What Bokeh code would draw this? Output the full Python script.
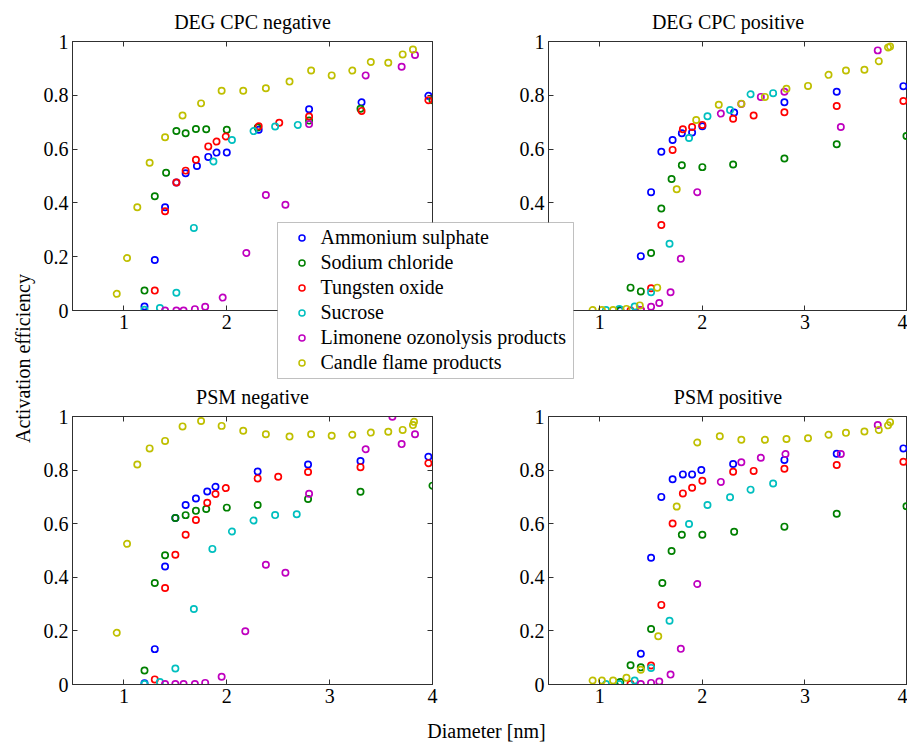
import math
from bokeh.plotting import figure
from bokeh.models import (Range1d, FixedTicker, CustomJSTickFormatter, LinearAxis,
                          Legend, LegendItem, Label, BoxAnnotation, GridBox, Column)
from bokeh.embed import file_html
from bokeh.resources import INLINE

# ---------------- data ----------------
series_names = ["Ammonium sulphate", "Sodium chloride", "Tungsten oxide", "Sucrose",
                "Limonene ozonolysis products", "Candle flame products"]
series_colors = ["#0000ff", "#008000", "#ff0000", "#00bfbf", "#bf00bf", "#bfbf00"]
panel_titles = ["DEG CPC negative", "DEG CPC positive", "PSM negative", "PSM positive"]
x_ticks = [1, 2, 3, 4]
y_ticks = [0, 0.2, 0.4, 0.6, 0.8, 1]
x_label = "Diameter [nm]"
y_label = "Activation efficiency"

# DEG CPC negative
deg_neg_ammonium_x = [1.20, 1.30, 1.40, 1.51, 1.60, 1.71, 1.82, 1.90, 2.00, 2.31, 2.80, 3.31, 3.96]
deg_neg_ammonium_y = [0.015, 0.188, 0.384, 0.476, 0.510, 0.537, 0.571, 0.587, 0.587, 0.672, 0.748, 0.774, 0.798]
deg_neg_sodium_x = [1.20, 1.30, 1.41, 1.51, 1.60, 1.70, 1.80, 2.00, 2.30, 2.80, 3.30, 4.00]
deg_neg_sodium_y = [0.074, 0.425, 0.512, 0.667, 0.659, 0.675, 0.674, 0.672, 0.680, 0.706, 0.750, 0.782]
deg_neg_tungsten_x = [1.30, 1.40, 1.51, 1.60, 1.70, 1.82, 1.90, 1.99, 2.31, 2.51, 2.80, 3.31, 3.96]
deg_neg_tungsten_y = [0.074, 0.369, 0.476, 0.520, 0.560, 0.610, 0.628, 0.647, 0.685, 0.698, 0.721, 0.742, 0.782]
deg_neg_sucrose_x = [1.20, 1.35, 1.51, 1.68, 1.87, 2.05, 2.26, 2.47, 2.69]
deg_neg_sucrose_y = [0.003, 0.009, 0.066, 0.307, 0.554, 0.634, 0.667, 0.684, 0.690]
deg_neg_limonene_x = [1.40, 1.51, 1.58, 1.69, 1.79, 1.96, 2.19, 2.38, 2.57, 2.80, 3.35, 3.70, 3.83]
deg_neg_limonene_y = [0.0, 0.0, 0.0, 0.005, 0.014, 0.048, 0.214, 0.429, 0.393, 0.693, 0.874, 0.906, 0.950]
deg_neg_candle_x = [0.93, 1.03, 1.13, 1.25, 1.40, 1.57, 1.75, 1.95, 2.16, 2.38, 2.61, 2.82, 3.02,
                    3.22, 3.40, 3.57, 3.71, 3.81]
deg_neg_candle_y = [0.062, 0.195, 0.384, 0.549, 0.644, 0.725, 0.770, 0.817, 0.817, 0.826, 0.851, 0.892,
                    0.874, 0.892, 0.924, 0.921, 0.952, 0.970]

# DEG CPC positive
deg_pos_ammonium_x = [1.20, 1.40, 1.50, 1.60, 1.71, 1.80, 1.90, 2.00, 2.31, 2.80, 3.31, 3.96]
deg_pos_ammonium_y = [0.0, 0.202, 0.440, 0.590, 0.634, 0.659, 0.662, 0.685, 0.736, 0.774, 0.813, 0.834]
deg_pos_sodium_x = [1.20, 1.30, 1.40, 1.50, 1.60, 1.70, 1.80, 2.00, 2.30, 2.80, 3.31, 3.99]
deg_pos_sodium_y = [0.002, 0.085, 0.071, 0.214, 0.379, 0.489, 0.540, 0.533, 0.543, 0.565, 0.618, 0.649]
deg_pos_tungsten_x = [1.30, 1.40, 1.50, 1.60, 1.71, 1.81, 1.90, 2.00, 2.30, 2.50, 2.80, 3.31, 3.96]
deg_pos_tungsten_y = [0.0, 0.002, 0.083, 0.318, 0.597, 0.674, 0.682, 0.690, 0.713, 0.725, 0.737, 0.760, 0.779]
deg_pos_sucrose_x = [1.06, 1.19, 1.34, 1.50, 1.68, 1.87, 2.05, 2.27, 2.47, 2.69]
deg_pos_sucrose_y = [0.002, 0.006, 0.015, 0.068, 0.248, 0.641, 0.722, 0.745, 0.804, 0.808]
deg_pos_limonene_x = [1.40, 1.50, 1.58, 1.69, 1.79, 1.95, 2.18, 2.38, 2.57, 2.80, 3.35, 3.71]
deg_pos_limonene_y = [0.002, 0.014, 0.028, 0.068, 0.192, 0.440, 0.732, 0.768, 0.794, 0.813, 0.682, 0.967]
deg_pos_candle_x = [0.93, 1.02, 1.13, 1.26, 1.39, 1.56, 1.75, 1.94, 2.16, 2.38, 2.61, 2.82, 3.03,
                    3.23, 3.40, 3.58, 3.72, 3.81, 3.83]
deg_pos_candle_y = [0.002, 0.002, 0.002, 0.006, 0.019, 0.085, 0.451, 0.708, 0.765, 0.769, 0.794, 0.824,
                    0.835, 0.876, 0.892, 0.895, 0.927, 0.978, 0.981]

# PSM negative
psm_neg_ammonium_x = [1.20, 1.30, 1.40, 1.50, 1.60, 1.70, 1.81, 1.89, 2.30, 2.79, 3.30, 3.96]
psm_neg_ammonium_y = [0.005, 0.132, 0.440, 0.621, 0.670, 0.694, 0.720, 0.738, 0.795, 0.821, 0.834, 0.850]
psm_neg_sodium_x = [1.20, 1.30, 1.40, 1.50, 1.60, 1.70, 1.80, 2.00, 2.30, 2.79, 3.30, 4.00]
psm_neg_sodium_y = [0.052, 0.379, 0.482, 0.621, 0.632, 0.648, 0.655, 0.660, 0.670, 0.692, 0.719, 0.742]
psm_neg_tungsten_x = [1.30, 1.40, 1.50, 1.60, 1.70, 1.81, 1.89, 1.99, 2.30, 2.50, 2.79, 3.30, 3.96]
psm_neg_tungsten_y = [0.019, 0.360, 0.484, 0.559, 0.614, 0.678, 0.711, 0.733, 0.769, 0.775, 0.793, 0.811, 0.826]
psm_neg_sucrose_x = [1.20, 1.35, 1.50, 1.68, 1.86, 2.05, 2.26, 2.47, 2.68]
psm_neg_sucrose_y = [0.002, 0.009, 0.060, 0.282, 0.506, 0.571, 0.612, 0.632, 0.635]
psm_neg_limonene_x = [1.40, 1.50, 1.58, 1.69, 1.79, 1.95, 2.18, 2.38, 2.57, 2.80, 3.35, 3.61, 3.70, 3.83]
psm_neg_limonene_y = [0.002, 0.002, 0.002, 0.002, 0.006, 0.029, 0.199, 0.447, 0.417, 0.712, 0.878,
                      0.999, 0.897, 0.934]
psm_neg_candle_x = [0.93, 1.03, 1.13, 1.25, 1.40, 1.57, 1.75, 1.95, 2.16, 2.38, 2.61, 2.82, 3.02,
                    3.22, 3.40, 3.57, 3.71, 3.81, 3.82]
psm_neg_candle_y = [0.193, 0.525, 0.821, 0.881, 0.909, 0.963, 0.983, 0.965, 0.947, 0.934, 0.925, 0.934,
                    0.928, 0.932, 0.940, 0.943, 0.950, 0.968, 0.980]

# PSM positive
psm_pos_ammonium_x = [1.40, 1.50, 1.60, 1.71, 1.81, 1.90, 1.99, 2.30, 2.80, 3.31, 3.96]
psm_pos_ammonium_y = [0.115, 0.473, 0.700, 0.766, 0.784, 0.784, 0.800, 0.823, 0.838, 0.861, 0.881]
psm_pos_sodium_x = [1.20, 1.30, 1.40, 1.50, 1.61, 1.70, 1.80, 2.00, 2.31, 2.80, 3.31, 3.99]
psm_pos_sodium_y = [0.009, 0.072, 0.064, 0.207, 0.379, 0.498, 0.559, 0.559, 0.570, 0.589, 0.637, 0.665]
psm_pos_tungsten_x = [1.30, 1.50, 1.60, 1.71, 1.81, 1.90, 2.00, 2.30, 2.50, 2.80, 3.31, 3.96]
psm_pos_tungsten_y = [0.002, 0.071, 0.297, 0.601, 0.713, 0.734, 0.760, 0.794, 0.797, 0.805, 0.819, 0.831]
psm_pos_sucrose_x = [1.06, 1.19, 1.34, 1.50, 1.68, 1.87, 2.05, 2.27, 2.47, 2.69]
psm_pos_sucrose_y = [0.002, 0.002, 0.015, 0.062, 0.238, 0.599, 0.670, 0.699, 0.727, 0.750]
psm_pos_limonene_x = [1.40, 1.50, 1.58, 1.69, 1.79, 1.95, 2.18, 2.38, 2.57, 2.81, 3.35, 3.71]
psm_pos_limonene_y = [0.002, 0.006, 0.011, 0.037, 0.133, 0.375, 0.756, 0.829, 0.846, 0.860, 0.860, 0.968]
psm_pos_candle_x = [0.93, 1.02, 1.13, 1.26, 1.40, 1.57, 1.75, 1.95, 2.17, 2.38, 2.61, 2.82, 3.03,
                    3.23, 3.40, 3.58, 3.72, 3.81, 3.83]
psm_pos_candle_y = [0.015, 0.015, 0.015, 0.025, 0.055, 0.180, 0.664, 0.903, 0.926, 0.913, 0.913, 0.916,
                    0.919, 0.932, 0.939, 0.944, 0.950, 0.967, 0.979]

panel_data = [
    [(deg_neg_ammonium_x, deg_neg_ammonium_y), (deg_neg_sodium_x, deg_neg_sodium_y),
     (deg_neg_tungsten_x, deg_neg_tungsten_y), (deg_neg_sucrose_x, deg_neg_sucrose_y),
     (deg_neg_limonene_x, deg_neg_limonene_y), (deg_neg_candle_x, deg_neg_candle_y)],
    [(deg_pos_ammonium_x, deg_pos_ammonium_y), (deg_pos_sodium_x, deg_pos_sodium_y),
     (deg_pos_tungsten_x, deg_pos_tungsten_y), (deg_pos_sucrose_x, deg_pos_sucrose_y),
     (deg_pos_limonene_x, deg_pos_limonene_y), (deg_pos_candle_x, deg_pos_candle_y)],
    [(psm_neg_ammonium_x, psm_neg_ammonium_y), (psm_neg_sodium_x, psm_neg_sodium_y),
     (psm_neg_tungsten_x, psm_neg_tungsten_y), (psm_neg_sucrose_x, psm_neg_sucrose_y),
     (psm_neg_limonene_x, psm_neg_limonene_y), (psm_neg_candle_x, psm_neg_candle_y)],
    [(psm_pos_ammonium_x, psm_pos_ammonium_y), (psm_pos_sodium_x, psm_pos_sodium_y),
     (psm_pos_tungsten_x, psm_pos_tungsten_y), (psm_pos_sucrose_x, psm_pos_sucrose_y),
     (psm_pos_limonene_x, psm_pos_limonene_y), (psm_pos_candle_x, psm_pos_candle_y)],
]

# ---------------- layout / style ----------------
W, H = 907, 743
COL_SPLIT, ROW_SPLIT = 480, 365
FONT = "Liberation Serif"
FS = "20px"
LINE = "#303030"
MARKER_SIZE = 6.3
MARKER_LW = 1.7

# frame boxes (left, right, top, bottom) in page pixels
frames = [(72, 432, 41, 310), (548, 907, 41, 310), (72, 432, 416, 684), (548, 907, 416, 684)]
cells = [(0, 0), (0, 1), (1, 0), (1, 1)]

num_fmt = CustomJSTickFormatter(code="return String(+tick.toFixed(2));")
blank_fmt = CustomJSTickFormatter(code="return '';")


def style_axis(ax, ticks, labels):
    ax.ticker = FixedTicker(ticks=ticks)
    ax.formatter = num_fmt if labels else blank_fmt
    ax.major_tick_in = 5
    ax.major_tick_out = 0
    ax.minor_tick_line_color = None
    ax.axis_line_color = LINE
    ax.major_tick_line_color = LINE
    ax.major_label_text_font = FONT
    ax.major_label_text_font_size = FS if labels else "0px"
    ax.major_label_text_color = "black"
    ax.major_label_standoff = 4 if labels else 0


children = []
for i, (title, (fl, fr, ft, fb), data, (row, col)) in enumerate(
        zip(panel_titles, frames, panel_data, cells)):
    x0 = 0 if col == 0 else COL_SPLIT
    x1 = COL_SPLIT if col == 0 else W
    y0 = 0 if row == 0 else ROW_SPLIT
    y1 = ROW_SPLIT if row == 0 else H
    p = figure(width=x1 - x0, height=y1 - y0, output_backend="svg", toolbar_location=None,
               x_range=Range1d(0.5, 4), y_range=Range1d(0, 1),
               x_axis_type=None, y_axis_type=None,
               min_border_left=fl - x0, min_border_right=x1 - fr,
               min_border_top=ft - y0, min_border_bottom=y1 - fb,
               title=title)
    p.border_fill_color = "white"
    p.background_fill_color = "white"
    p.outline_line_color = LINE
    p.outline_line_width = 1
    p.title.text_font = FONT
    p.title.text_font_size = FS
    p.title.text_font_style = "normal"
    p.title.text_color = "black"
    p.title.align = "center"
    p.title.standoff = 17

    bx = LinearAxis(); style_axis(bx, x_ticks, True); p.add_layout(bx, "below")
    ly = LinearAxis(); style_axis(ly, y_ticks, True); p.add_layout(ly, "left")
    tx = LinearAxis(); style_axis(tx, x_ticks, False); p.add_layout(tx, "above")
    if col == 0:
        ry = LinearAxis(); style_axis(ry, y_ticks, False); p.add_layout(ry, "right")

    for (xs, ys), color in zip(data, series_colors):
        p.scatter(x=xs, y=ys, marker="circle", size=MARKER_SIZE, fill_color=None,
                  line_color=color, line_width=MARKER_LW)
    children.append((p, row, col))

grid = GridBox(children=children, spacing=0)

# overlay holding the shared axis labels and the legend, placed over the whole grid
ov = figure(width=W, height=H, output_backend="svg", toolbar_location=None,
            x_range=Range1d(0, W), y_range=Range1d(H, 0),
            x_axis_type=None, y_axis_type=None,
            min_border_left=0, min_border_right=0, min_border_top=0, min_border_bottom=0,
            styles={"position": "absolute", "left": "0px", "top": "0px", "z-index": "10"})
ov.border_fill_alpha = 0
ov.background_fill_alpha = 0
ov.outline_line_color = None

ov.add_layout(BoxAnnotation(left=277, right=573, top=222, bottom=378,
                            fill_color="white", fill_alpha=1.0,
                            line_color=LINE, line_width=1))

items = []
nan = float("nan")
for name, color in zip(series_names, series_colors):
    # legend-only renderer (no visible point), used for the legend swatch
    r = ov.scatter(x=[nan], y=[nan], marker="circle", size=MARKER_SIZE, fill_color=None,
                   line_color=color, line_width=1.5)
    items.append(LegendItem(label=name, renderers=[r]))

legend = Legend(items=items, location=(293.5, H - 375), orientation="vertical",
                padding=0, margin=0, spacing=0,
                glyph_width=15, glyph_height=25, label_height=25, label_standoff=12,
                label_text_font=FONT, label_text_font_size=FS, label_text_color="black",
                border_line_color=None, background_fill_alpha=0)
ov.add_layout(legend)

ov.add_layout(Label(x=22, y=358, text=y_label, angle=math.pi / 2,
                    text_align="center", text_baseline="alphabetic",
                    text_font=FONT, text_font_size=FS, text_color="black"))
ov.add_layout(Label(x=486, y=730, text=x_label,
                    text_align="center", text_baseline="alphabetic",
                    text_font=FONT, text_font_size=FS, text_color="black"))

layout = Column(children=[grid, ov], styles={"position": "relative"})

open("out.html", "w").write(file_html(layout, INLINE))
